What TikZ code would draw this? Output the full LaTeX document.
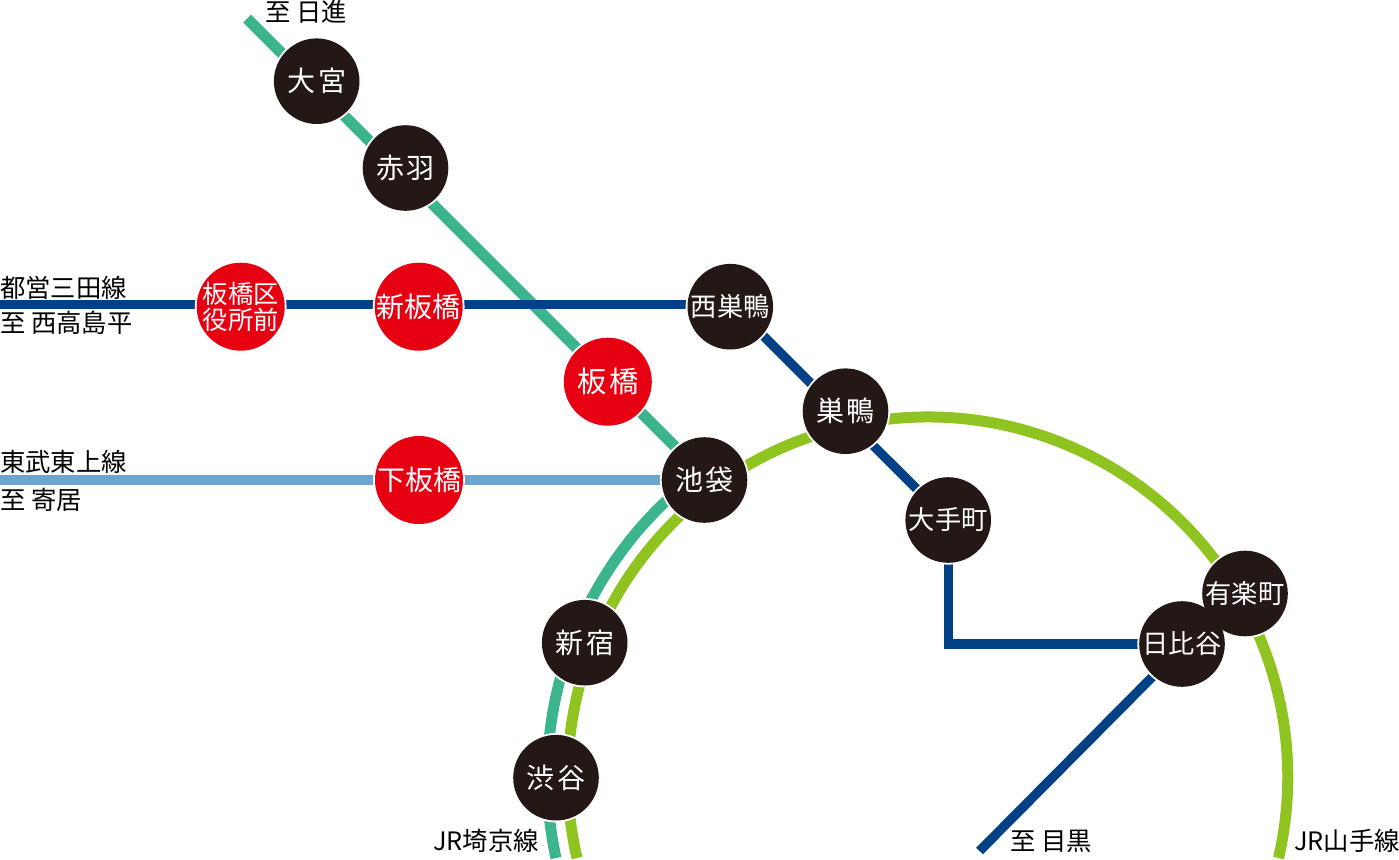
\documentclass[tikz,border=0pt]{standalone}
\usepackage{fontspec}
\usetikzlibrary{calc}
\setmainfont{Noto Sans CJK JP}
\definecolor{stnblack}{HTML}{231815}
\definecolor{stnredc}{HTML}{E60012}
\definecolor{lgreen}{HTML}{3CB58F}
\definecolor{lblue}{HTML}{004085}
\definecolor{lsky}{HTML}{6CA5CE}
\definecolor{lyellow}{HTML}{8FC31F}
\pgfdeclarelayer{lines}
\pgfdeclarelayer{halo}
\pgfsetlayers{lines,halo,main}
\tikzset{
 px/.style={x=0.75pt,y=-0.75pt},
 stn/.style={circle,inner sep=0pt},
 stxt/.style={text=white,inner sep=0pt,align=center,font=\fontsize{21pt}{21pt}\selectfont},
 stxtb/.style={stxt,font=\fontsize{19.7pt}{19.7pt}\selectfont},
 blk/.style={stn,minimum size=64.2pt,fill=stnblack},
 stnred/.style={stn,minimum size=66pt,fill=stnredc},
 haloc/.style={fill=white},
 lbl/.style={font=\fontsize{19pt}{19pt}\selectfont,inner sep=0pt,text=black,anchor=west},
 ln/.style={line width=7pt},
 wln/.style={line width=8.25pt},
 glin/.style={wln,draw=lgreen},
 blin/.style={ln,draw=lblue},
 slin/.style={ln,draw=lsky},
 ylin/.style={wln,draw=lyellow},
}
\newcommand{\tg}{\kern2pt\relax}
\begin{document}
\begin{tikzpicture}[px]
\useasboundingbox (0,0) rectangle (1399,860);
\node[blk,label={[stxt]center:大\tg 宮}] (omiya) at (316.7,81.2) {};
\node[blk,label={[stxt]center:赤\tg 羽}] (akabane) at (405.5,168) {};
\node[stnred,label={[stxt,font=\fontsize{19pt}{19.5pt}\selectfont]center:板橋区\\役所前}] (itakuyaku) at (240.7,306.7) {};
\node[stnred,label={[stxt]center:新板橋}] (shinita) at (418.7,306.7) {};
\node[blk,label={[stxtb]center:西巣鴨}] (nishi) at (730.3,306.7) {};
\node[stnred,label={[stxt,font=\fontsize{22pt}{22pt}\selectfont]center:板\tg 橋}] (itabashi) at (607.8,381.7) {};
\node[blk,label={[stxt]center:巣\tg 鴨}] (sugamo) at (845.5,411.2) {};
\node[stnred,label={[stxt]center:下板橋}] (shimo) at (419,480) {};
\node[blk,label={[stxt]center:池\tg 袋}] (ike) at (704.5,480) {};
\node[blk,label={[stxtb]center:大手町}] (ote) at (948.2,520) {};
\node[blk,label={[stxtb]center:有楽町}] (yura) at (1245,593.5) {};
\node[blk,label={[stxtb]center:日比谷}] (hibi) at (1182,644) {};
\node[blk,label={[stxt]center:新\tg 宿}] (shinj) at (584.7,642.7) {};
\node[blk,label={[stxt]center:渋\tg 谷}] (shib) at (556,777.7) {};
\node[lbl] (l1) at (265,12) {至 日進};
\node[lbl] (l2) at (0,288) {都営三田線};
\node[lbl] (l3) at (0,323) {至 西高島平};
\node[lbl] (l4) at (0,462) {東武東上線};
\node[lbl] (l5) at (0,500) {至 寄居};
\node[lbl] (l6) at (433,841) {JR埼京線};
\node[lbl] (l7) at (1010,841) {至 目黒};
\node[lbl] (l8) at (1294,841) {JR山手線};
\coordinate (gs) at (247,18.5);
\coordinate (gt) at (690,461.5);
\coordinate (bw) at (0,304.5);
\coordinate (sw) at (0,480);
\coordinate (ge) at (556,858);
\coordinate (ye) at (577,858);
\coordinate (be) at (979.5,851);
\coordinate (corner) at (948.2,644);
\coordinate (nb) at (735,307.5);
\coordinate (ob) at (948.2,520.5);
\coordinate (hb) at (1183,646);
\begin{pgfonlayer}{halo}
\foreach \s/\r in {omiya/32.1,akabane/32.1,itakuyaku/33,shinita/33,nishi/32.1,itabashi/33,sugamo/32.1,shimo/33,ike/32.1,ote/32.1,yura/32.1,hibi/32.1,shinj/32.1,shib/32.1}
  \fill[haloc] (\s.center) circle[radius=\r pt+1.4pt];
\end{pgfonlayer}
\begin{pgfonlayer}{lines}
\draw[glin] (gs) -- ($(gs)!(omiya.center)!(gt)$);
\draw[glin] ($(gs)!(omiya.center)!(gt)$) -- ($(gs)!(akabane.center)!(gt)$);
\draw[glin] ($(gs)!(akabane.center)!(gt)$) -- ($(gs)!(itabashi.center)!(gt)$);
\draw[glin] ($(gs)!(itabashi.center)!(gt)$) -- (gt);
\draw[blin] (bw) -- (bw -| itakuyaku.center);
\draw[blin] (bw -| itakuyaku.center) -- (bw -| shinita.center);
\draw[blin] (bw -| shinita.center) -- (bw -| nishi.center);
\draw[blin] (nb) -- ($(nb)!(sugamo.center)!(ob)$);
\draw[blin] ($(nb)!(sugamo.center)!(ob)$) -- (ob);
\draw[blin,line join=miter] (ote.center) -- (corner) -- (corner -| hibi.center);
\draw[blin] (hb) -- (be);
\draw[slin] (sw) -- (shimo.center);
\draw[slin] (shimo.center) -- (ike.center);
\draw[glin] (ge) arc[start angle=192.3,end angle=127,radius=285pt];
\draw[ylin] (ye) arc[start angle=193,end angle=-13,radius=270pt];
\end{pgfonlayer}
\end{tikzpicture}
\end{document}
